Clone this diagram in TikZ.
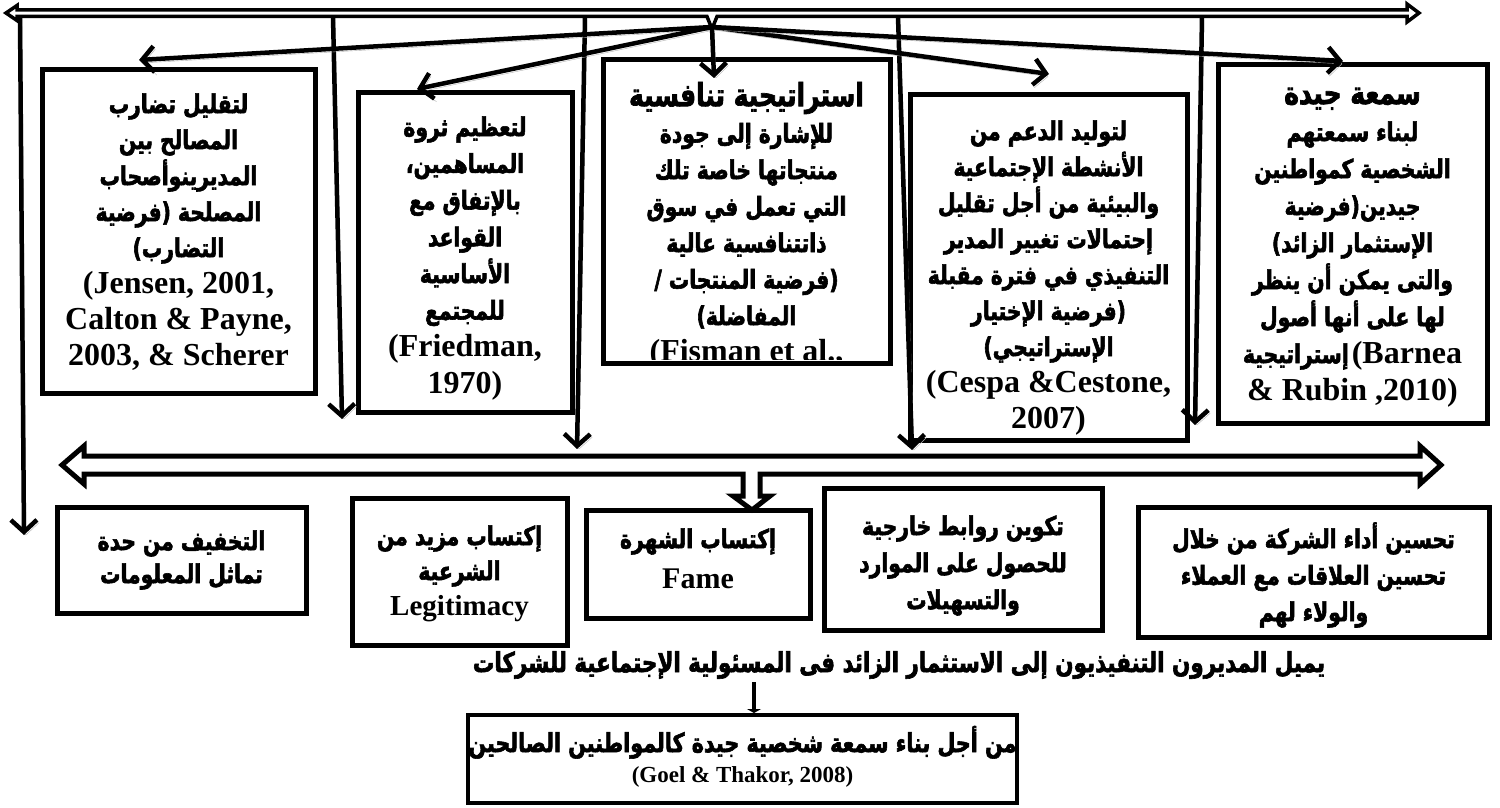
\documentclass[tikz,border=0pt]{standalone}
\usepackage{fontspec}
\setmainfont{Liberation Serif}
\newfontfamily\arfont[Script=Arabic,FakeStretch=0.78,FakeBold=2.2]{DejaVu Sans Bold}
\TeXXeTstate=1
\usetikzlibrary{arrows.meta}
\newcommand\AR[1]{{\arfont\beginR #1\endR}}
\newcommand\EN[1]{{\bfseries #1}}
\newcommand\LT{\fontsize{32}{36}\selectfont}
\newcommand\ST{\rule{0pt}{32pt}}
\begin{document}
\begin{tikzpicture}[x=1pt,y=-1pt,
  box/.style={draw, line width=5pt, inner sep=0pt},
  tx/.style={align=center, inner sep=0pt, anchor=north, font=\fontsize{26}{36}\selectfont},
  conn/.style={line width=4.5pt, -{Straight Barb[length=12pt,width=26pt]},
     preaction={draw=black!30, transform canvas={shift={(2pt,-3pt)}}}},
  dbl/.style={line width=3.5pt, fill=white, line join=miter}]
\fill[white] (0,0) rectangle (1500,808);
\useasboundingbox (0,0) rectangle (1500,808);

% ---------- top row boxes ----------
\node[box, minimum width=273pt, minimum height=323pt] (A) at (178.5,231.5) {};
\node[box, minimum width=214pt, minimum height=319pt] (B) at (465,252.5) {};
\node[box, minimum width=287pt, minimum height=303pt] (C) at (746.5,211.5) {};
\node[box, minimum width=277pt, minimum height=345pt] (D) at (1048.5,267.5) {};
\node[box, minimum width=269pt, minimum height=358pt] (E) at (1352.5,244) {};

\node[tx] (At) at (178.5,81) {\ST\AR{لتقليل تضارب}\\ \AR{المصالح بين}\\ \AR{المديرينوأصحاب}\\ \AR{المصلحة (فرضية}\\ \AR{التضارب)}\\ \EN{\LT(Jensen, 2001,}\\ \EN{\LT Calton \& Payne,}\\ \EN{\LT 2003, \& Scherer}};

\node[tx, font=\fontsize{26}{36.7}\selectfont] (Bt) at (465,104) {\ST\AR{لتعظيم ثروة}\\ \AR{المساهمين،}\\ \AR{بالإتفاق مع}\\ \AR{القواعد}\\ \AR{الأساسية}\\ \AR{للمجتمع}\\ \EN{\LT(Friedman,}\\ \EN{\LT 1970)}};

\begin{scope}
\clip (605.5,62.5) rectangle (887.5,359.5);
\node[tx, font=\fontsize{26}{36.5}\selectfont] (Ct) at (746.5,74) {\ST\AR{\fontsize{32}{36}\selectfont استراتيجية تنافسية}\\ \AR{للإشارة إلى جودة}\\ \AR{منتجاتها خاصة تلك}\\ \AR{التي تعمل في سوق}\\ \AR{ذاتتنافسية عالية}\\ \AR{(فرضية المنتجات /}\\ \AR{المفاضلة)}\\ \EN{\LT(Fisman et al.,}};
\end{scope}

\node[tx] (Dt) at (1048.5,108) {\ST\AR{لتوليد الدعم من}\\ \AR{الأنشطة الإجتماعية}\\ \AR{والبيئية من أجل تقليل}\\ \AR{إحتمالات تغيير المدير}\\ \AR{التنفيذي في فترة مقبلة}\\ \AR{(فرضية الإختيار}\\ \AR{الإستراتيجي)}\\ \EN{\LT(Cespa \&Cestone,}\\ \EN{\LT 2007)}};

\node[tx, font=\fontsize{26}{37}\selectfont] (Et) at (1352.5,72) {\ST\AR{\fontsize{32}{36}\selectfont سمعة جيدة}\\ \AR{لبناء سمعتهم}\\ \AR{الشخصية كمواطنين}\\ \AR{جيدين(فرضية}\\ \AR{الإستثمار الزائد)}\\ \AR{والتى يمكن أن ينظر}\\ \AR{لها على أنها أصول}\\ \mbox{\AR{إستراتيجية}}\hspace{3pt}\mbox{\EN{\LT(Barnea}}\\ \EN{\LT \& Rubin ,2010)}};

% ---------- connector coordinates ----------
\coordinate (ap) at (712,27);
\coordinate (s1) at (20,17);   \coordinate (e1) at (24,535);
\coordinate (s2) at (333,17);  \coordinate (e2) at (342,419);
\coordinate (s3) at (585,17);  \coordinate (e3) at (577,449);
\coordinate (s4) at (898,17);  \coordinate (e4) at (912,450);
\coordinate (s5) at (1202,17); \coordinate (e5) at (1195,425);
\coordinate (fA) at (139,60);
\coordinate (fB) at (417,89);
\coordinate (fC) at (714,78);
\coordinate (fD) at (1049,74);
\coordinate (fE) at (1343,61);

\draw[conn] (s1) -- (e1);
\draw[conn] (s2) -- (e2);
\draw[conn] (s3) -- (e3);
\draw[conn] (s4) -- (e4);
\draw[conn] (s5) -- (e5);
\draw[conn] (ap) -- (fA);
\draw[conn] (ap) -- (fB);
\draw[conn] (ap) -- (fC);
\draw[conn] (ap) -- (fD);
\draw[conn] (ap) -- (fE);

% ---------- top double arrow ----------
\draw[dbl] (6,13) -- (17,5.5) -- (17,10) -- (1407,10) -- (1407,4) -- (1419,13)
  -- (1407,22) -- (1407,16.5) -- (717,16.5) -- (712,29) -- (707,16.5) -- (17,16.5) -- (17,20.5) -- cycle;

% ---------- middle double arrow ----------
\draw[dbl, line width=5pt] (62,465) -- (84,446) -- (84,456) -- (1420,456) -- (1420,446) -- (1441,465)
  -- (1420,484) -- (1420,474) -- (760,474) -- (760,496) -- (770,496) -- (752,510)
  -- (733,496) -- (743,496) -- (743,474) -- (84,474) -- (84,484) -- cycle;

% ---------- bottom row ----------
\node[box, minimum width=249pt, minimum height=106pt] (b1) at (181.5,560) {};
\node[box, minimum width=215pt, minimum height=147pt] (b2) at (459.5,571.5) {};
\node[box, minimum width=224pt, minimum height=108pt] (b3) at (698,564) {};
\node[box, minimum width=278pt, minimum height=142pt] (b4) at (963,559) {};
\node[box, minimum width=351pt, minimum height=130pt] (b5) at (1313.5,572) {};

\node[tx, font=\fontsize{26}{33}\selectfont] (b1t) at (181.5,518) {\ST\AR{التخفيف من حدة}\\ \AR{تماثل المعلومات}};
\node[tx, font=\fontsize{26}{35}\selectfont] (b2t) at (459.5,513) {\ST\AR{إكتساب مزيد من}\\ \AR{الشرعية}\\ \EN{\fontsize{29}{36}\selectfont Legitimacy}};
\node[tx, font=\fontsize{26}{40}\selectfont] (b3t) at (698,516) {\ST\AR{إكتساب الشهرة}\\ \EN{\fontsize{30}{36}\selectfont Fame}};
\node[tx, font=\fontsize{26}{37}\selectfont] (b4t) at (963,503) {\ST\AR{تكوين روابط خارجية}\\ \AR{للحصول على الموارد}\\ \AR{والتسهيلات}};
\node[tx, font=\fontsize{26}{36.5}\selectfont] (b5t) at (1313.5,516) {\ST\AR{تحسين أداء الشركة من خلال}\\ \AR{تحسين العلاقات مع العملاء}\\ \AR{والولاء لهم}};

% ---------- bottom statement ----------
\node[inner sep=0pt, font=\fontsize{27.5}{30}\selectfont] (S) at (899,665) {\AR{يميل المديرون التنفيذيون إلى الاستثمار الزائد فى المسئولية الإجتماعية للشركات}};
\node[box, line width=4pt, minimum width=549pt, minimum height=88pt] (G) at (742.5,759) {};
\node[tx, font=\fontsize{26.5}{30}\selectfont] (Gt) at (742.5,720) {\ST\AR{من أجل بناء سمعة شخصية جيدة كالمواطنين الصالحين}\\ \EN{\fontsize{23}{30}\selectfont(Goel \& Thakor, 2008)}};
\coordinate (Sb) at (754,682);
\coordinate (Gb) at (754,713);
\draw[line width=4pt, -{Triangle[length=4pt,width=14pt]}] (Sb) -- (Gb);
\end{tikzpicture}
\end{document}
